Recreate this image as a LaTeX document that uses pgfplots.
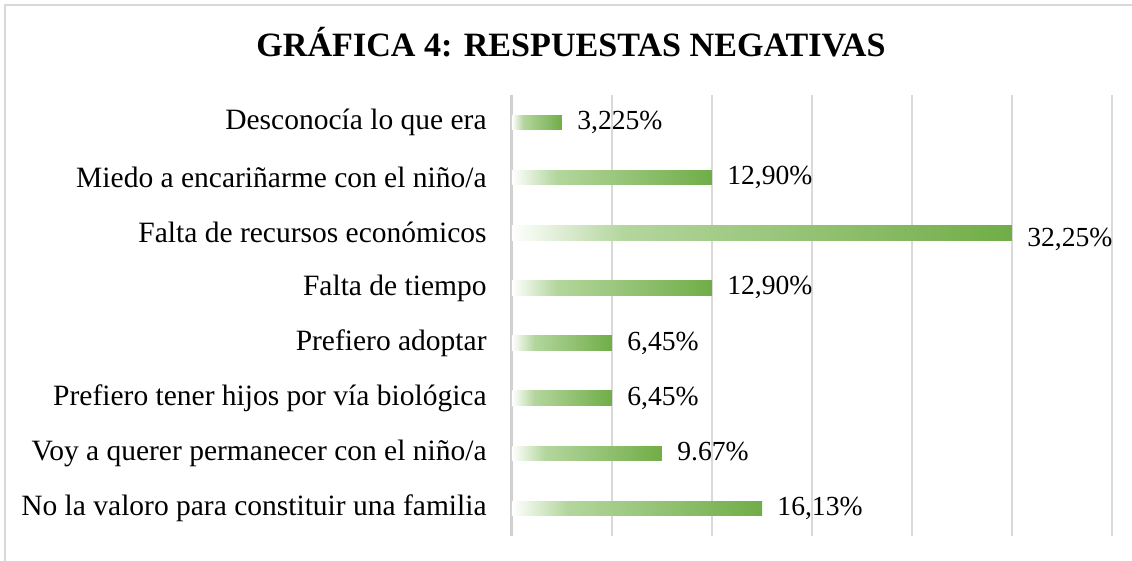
\documentclass[border=0pt]{standalone}
\usepackage{pgfplots}
\pgfplotsset{compat=1.18}
\usepackage{fontspec}
\setmainfont{Liberation Serif}
\definecolor{bargreen}{HTML}{70AD47}
\definecolor{barlight}{HTML}{B4D69E}
\definecolor{gridgray}{HTML}{D9D9D9}
\definecolor{axisgray}{HTML}{D0D0D0}
\pgfdeclarehorizontalshading{bargrad}{100bp}{color(0bp)=(white); color(25bp)=(white); color(36bp)=(barlight); color(75bp)=(bargreen); color(100bp)=(bargreen)}
\begin{document}
\begin{tikzpicture}
\useasboundingbox (0,0) rectangle (566pt,280.5pt);
\draw[gridgray, line width=1pt] (2.5pt,0) -- (2.5pt,278pt) -- (566pt,278pt);
\node[font=\fontsize{17.05}{20}\selectfont\bfseries, anchor=base] at (285.5pt,252pt) {GRÁFICA 4: RESPUESTAS NEGATIVAS};
\begin{axis}[
  at={(256pt,12.5pt)}, anchor=south west,
  scale only axis, width=300pt, height=220.5pt,
  xmin=0, xmax=38.7, ymin=-0.5, ymax=7.5,
  y dir=reverse,
  axis line style={draw=none},
  xtick={6.45,12.9,19.35,25.8,32.25,38.7},
  xticklabels={},
  xmajorgrids,
  grid style={gridgray, line width=0.75pt},
  extra x ticks={0},
  extra x tick labels={},
  extra x tick style={grid style={axisgray, line width=1.5pt}},
  major tick length=0pt,
  tick style={draw=none},
  ytick={0,...,7},
  yticklabels={Desconocía lo que era~, Miedo a encariñarme con el niño/a, Falta de recursos económicos, Falta de tiempo~, Prefiero adoptar, Prefiero tener hijos por vía biológica, Voy a querer permanecer con el niño/a, No la valoro para constituir una familia},
  yticklabel style={font=\fontsize{14.75}{17}\selectfont, anchor=east, inner sep=0pt, xshift=-12.5pt},
  clip=false,
  xbar, bar width=7.3pt, bar shift=0pt,
  point meta=explicit symbolic,
  nodes near coords,
  every node near coord/.append style={font=\fontsize{13.8}{16}\selectfont, anchor=west, inner sep=0pt, xshift=7.5pt, text=black},
  every axis plot/.append style={draw=none, shade, shading=bargrad},
]
\addplot coordinates {(3.225,0) [3,225\%]};
\addplot coordinates {(12.90,1) [12,90\%]};
\addplot[every node near coord/.append style={yshift=-3.5pt}] coordinates {(32.25,2) [32,25\%]};
\addplot coordinates {(12.90,3) [12,90\%]};
\addplot coordinates {(6.45,4) [6,45\%]};
\addplot coordinates {(6.45,5) [6,45\%]};
\addplot[every node near coord/.append style={yshift=0.8pt}] coordinates {(9.67,6) [9.67\%]};
\addplot coordinates {(16.13,7) [16,13\%]};
\end{axis}
\end{tikzpicture}
\end{document}
